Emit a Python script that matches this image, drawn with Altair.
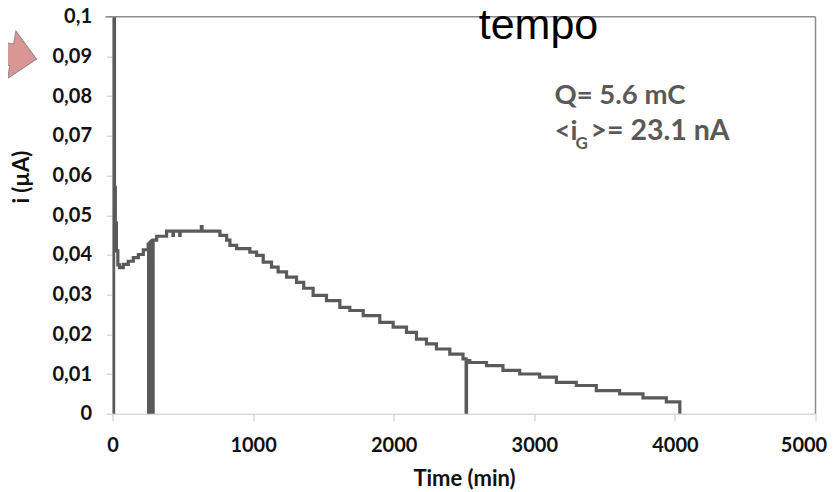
import altair as alt
import pandas as pd

# ---- data ----
time_min = [0, 8, 14, 20, 28, 38, 50, 77, 112, 148, 184, 219, 254,
            257, 259, 263, 265, 269, 271, 275, 277, 281, 283, 287, 289,
            314, 385, 430, 433, 478, 481, 632, 637, 728, 764, 812, 835,
            883, 977, 1025, 1072, 1131, 1178, 1238, 1309, 1360, 1427,
            1522, 1617, 1688, 1783, 1901, 1996, 2091, 2162, 2233, 2304,
            2399, 2493, 2515, 2518, 2541, 2660, 2777, 2896, 3038, 3157,
            3299, 3441, 3607, 3773, 3939, 4035]
current_uA = [0, 0.12, 0.057, 0.048, 0.041, 0.0375, 0.0368, 0.0376, 0.0384,
              0.0393, 0.0401, 0.0413, 0.0426,
              0, 0.0428, 0, 0.0430, 0, 0.0432, 0, 0.0434, 0, 0.0436, 0, 0.0437,
              0.0447, 0.0460, 0.0449, 0.0460, 0.0449, 0.0460, 0.0471, 0.0460,
              0.0460, 0.0449, 0.0437, 0.0424,
              0.0416, 0.0407, 0.0399, 0.0382, 0.0369, 0.0357, 0.0344, 0.0331,
              0.0316, 0.0298,
              0.0285, 0.0268, 0.0260, 0.0247, 0.0230, 0.0218, 0.0205, 0.0188,
              0.0176, 0.0163,
              0.0150, 0.0138, 0, 0.0134, 0.0129, 0.0121, 0.0109, 0.0100,
              0.0092, 0.0079,
              0.0071, 0.0058, 0.0050, 0.0040, 0.0030, 0]

x_ticks = [0, 1000, 2000, 3000, 4000, 5000]
y_ticks = [round(k / 100, 2) for k in range(0, 11)]

title_text = "tempo"
note_q = "Q= 5.6 mC"
note_i_pre = "<i"
note_i_sub = "G"
note_i_post = ">= 23.1 nA"

W, H = 703, 397

df = pd.DataFrame({"t": time_min, "i": current_uA})
one = pd.DataFrame({"k": [0]})

FONT = "Lato"
LABEL_COLOR = "#111111"
LINE_COLOR = "#5a5a5a"
NOTE_COLOR = "#595959"

line = alt.Chart(df).mark_line(
    interpolate="step-after", color=LINE_COLOR, strokeWidth=3.2, clip=True
).encode(
    x=alt.X("t:Q", scale=alt.Scale(domain=[0, 5000], nice=False),
            axis=alt.Axis(values=x_ticks, format="d", title="Time (min)",
                          titleY=72, titleBaseline="alphabetic",
                          labelFlush=False, labelOverlap=False,
                          labelOffset={"condition": {"test": "datum.value == 5000",
                                                     "value": -12},
                                       "value": 0},
                          tickSize=7, labelPadding=15, grid=False)),
    y=alt.Y("i:Q", scale=alt.Scale(domain=[0, 0.1], nice=False),
            axis=alt.Axis(values=y_ticks, title="i (\u00b5A)",
                          labelExpr="replace(format(datum.value, '.2~f'), '.', ',')",
                          labelFlush=False, labelOverlap=False,
                          titleX=-91, titleY=160, titleAngle=-90,
                          titleBaseline="middle",
                          tickSize=6, labelPadding=15, grid=False)),
)

top_rule = alt.Chart(one).mark_rule(color="#8c8c8c", strokeWidth=1.5).encode(
    x=alt.value(-7), x2=alt.value(W), y=alt.value(0)
)
right_rule = alt.Chart(one).mark_rule(color="#8c8c8c", strokeWidth=1.5).encode(
    x=alt.value(W), y=alt.value(0), y2=alt.value(H)
)

arrow_path = ("M -4 -1.05 L 0.6 -1.05 L 0.6 -2.3 L 3 0 L 0.6 2.3 "
              "L 0.6 1.05 L -4 1.05 Z")
arrow = alt.Chart(one).mark_point(
    shape=arrow_path, size=440, angle=10, filled=True,
    fill="#d99694", stroke="#8c8c8c", strokeWidth=1, opacity=1
).encode(x=alt.value(-107), y=alt.value(37))

tempo = alt.Chart(one).mark_text(
    text=title_text, font="Liberation Sans", fontSize=43, color="#000000",
    align="center", baseline="alphabetic"
).encode(x=alt.value(426), y=alt.value(22))

note_style = dict(font=FONT, fontWeight="bold", color=NOTE_COLOR,
                  align="left", baseline="alphabetic")
q_text = alt.Chart(one).mark_text(text=note_q, fontSize=27.5, **note_style).encode(
    x=alt.value(442), y=alt.value(87))
i_pre = alt.Chart(one).mark_text(text=note_i_pre, fontSize=27.5, **note_style).encode(
    x=alt.value(442), y=alt.value(123))
i_sub = alt.Chart(one).mark_text(text=note_i_sub, fontSize=17, **note_style).encode(
    x=alt.value(463), y=alt.value(132))
i_post = alt.Chart(one).mark_text(text=note_i_post, fontSize=28.5, **note_style).encode(
    x=alt.value(478), y=alt.value(123))

chart = alt.layer(
    line, top_rule, right_rule, arrow, tempo, q_text, i_pre, i_sub, i_post
).properties(
    width=W, height=H,
    autosize=alt.AutoSizeParams(type="none"),
    padding={"left": 104.5, "top": 8.7, "right": 14.5, "bottom": 78.3},
    background="white",
).configure_view(stroke=None).configure_axis(
    labelFont=FONT, labelFontWeight="bold", labelFontSize=20,
    labelColor=LABEL_COLOR,
    titleFont=FONT, titleFontWeight="bold", titleFontSize=22,
    titleColor=LABEL_COLOR,
    domainColor="#d9d9d9", domainWidth=1.5,
    tickColor="#d9d9d9", tickWidth=1.5,
)

chart.save("out.html", embed_options={"renderer": "svg", "actions": False})
